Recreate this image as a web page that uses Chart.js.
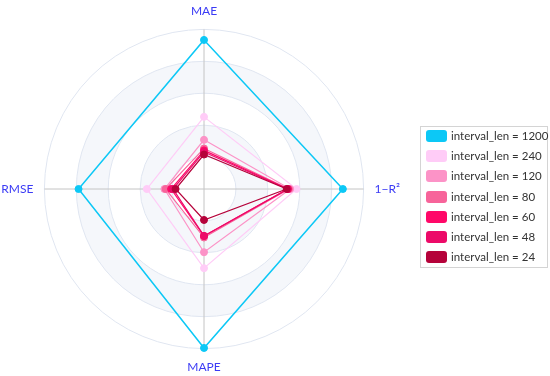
<!DOCTYPE html>
<html>
<head>
<meta charset="utf-8">
<script src="https://cdn.jsdelivr.net/npm/chart.js@4/dist/chart.umd.min.js"></script>
<style>
	html, body { margin: 0; padding: 0; background: #fff; overflow: hidden; }
	#wrap { position: relative; width: 550px; height: 376px; }
	#radar { position: absolute; left: -36px; top: 0; }
	#legend {
		position: absolute; left: 420px; top: 126px; width: 126px; height: 140px;
		border: 1px solid #d4d4d4; background: #fff;
		font-family: Lato, sans-serif; font-size: 11.5px; color: #333;
	}
	.item { position: absolute; left: 5px; height: 12px; line-height: 12px; white-space: nowrap; }
	.swatch { display: inline-block; width: 21px; height: 12px; border-radius: 3px; vertical-align: top; margin-right: 4px; }
</style>
</head>
<body>
<div id="wrap">
	<canvas id="radar" width="480" height="376"></canvas>
	<div id="legend"></div>
</div>
<script>
// metrics, clockwise from the top
const metrics = ['MAE', '1\u2212R\u00b2', 'MAPE', 'RMSE'];
const intervalLens = [1200, 240, 120, 80, 60, 48, 24];
const colors = ['#0cc8f6', '#ffccf7', '#fc93c7', '#f7649a', '#ff0868', '#ec0a68', '#b5023a'];

// values (0..5)
const len1200 = [4.67, 4.35, 4.98, 3.93];
const len240 = [2.26, 2.90, 2.48, 1.79];
const len120 = [1.54, 2.70, 1.98, 1.24];
const len80 = [1.27, 2.66, 1.52, 1.20];
const len60 = [1.21, 2.63, 1.47, 1.03];
const len48 = [1.16, 2.62, 1.47, 0.97];
const len24 = [1.08, 2.59, 0.97, 0.89];
const series = [len1200, len240, len120, len80, len60, len48, len24];

Chart.defaults.font.family = "Lato, sans-serif";

// alternating shaded rings under the grid
const bandsPlugin = {
	id: 'bands',
	beforeDraw(chart) {
		const r = chart.scales.r;
		const ctx = chart.ctx;
		ctx.save();
		for (let i = 0; i < 5; i++) {
			if (i % 2 === 0) continue;
			const r0 = r.getDistanceFromCenterForValue(i);
			const r1 = r.getDistanceFromCenterForValue(i + 1);
			ctx.beginPath();
			ctx.arc(r.xCenter, r.yCenter, r1, 0, Math.PI * 2);
			ctx.arc(r.xCenter, r.yCenter, r0, 0, Math.PI * 2, true);
			ctx.fillStyle = '#f5f7fb';
			ctx.fill();
		}
		ctx.restore();
	}
};

const datasets = series.map(function(values, i) {
	return {
		label: 'interval_len = ' + intervalLens[i],
		data: values,
		borderColor: colors[i],
		backgroundColor: colors[i],
		borderWidth: i === 0 ? 1.5 : 1.2,
		fill: false,
		pointRadius: 3.5,
		pointBorderWidth: 1,
		pointBorderColor: colors[i],
		pointBackgroundColor: colors[i],
		order: series.length - i
	};
});

const ctx = document.getElementById('radar').getContext('2d');
const chart = new Chart(ctx, {
	type: 'radar',
	data: { labels: metrics, datasets: datasets },
	options: {
		responsive: false,
		animation: false,
		layout: { padding: { top: 4, bottom: 2 } },
		plugins: { legend: { display: false }, tooltip: { enabled: false } },
		elements: { line: { tension: 0 } },
		scales: {
			r: {
				min: 0,
				max: 5,
				ticks: { display: false, stepSize: 1 },
				grid: { circular: true, color: '#e0e6f1', lineWidth: 1 },
				angleLines: { color: '#c4c4c4', lineWidth: 1 },
				pointLabels: { color: '#3b3bf5', font: { size: 12 }, padding: 11 }
			}
		}
	},
	plugins: [bandsPlugin]
});

// html legend built from the datasets
const legend = document.getElementById('legend');
chart.data.datasets.forEach(function(ds, i) {
	const item = document.createElement('div');
	item.className = 'item';
	item.style.top = (3 + i * 20.2) + 'px';
	item.innerHTML = '<span class="swatch" style="background:' + ds.borderColor + '"></span>' + ds.label;
	legend.appendChild(item);
});
</script>
</body>
</html>
